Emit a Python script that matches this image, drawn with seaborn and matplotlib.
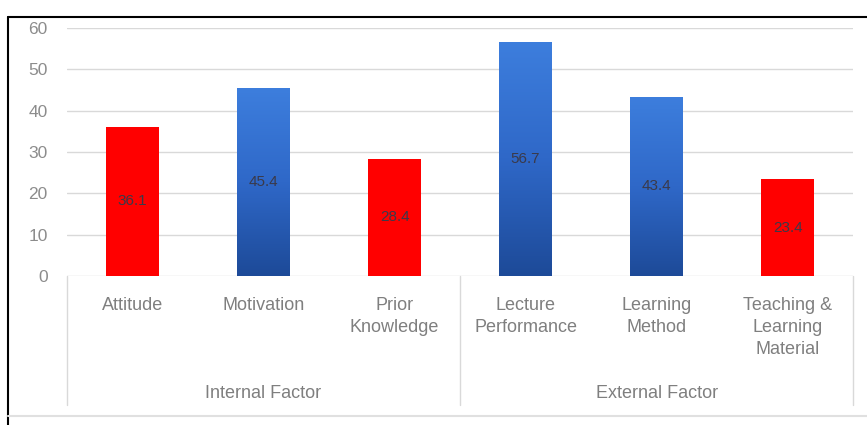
import matplotlib
matplotlib.use("Agg")
import matplotlib.pyplot as plt
import matplotlib.transforms as mtransforms
from matplotlib.lines import Line2D
import numpy as np
import pandas as pd
import seaborn as sns

# values
factors = ["Attitude", "Motivation", "Prior\nKnowledge",
           "Lecture\nPerformance", "Learning\nMethod", "Teaching &\nLearning\nMaterial"]
groups = ["Internal Factor", "External Factor"]
group_of = ["Internal Factor"] * 3 + ["External Factor"] * 3
values = [36.1, 45.4, 28.4, 56.7, 43.4, 23.4]
labels = ["36.1", "45.4", "28.4", "56.7", "43.4", "23.4"]
bar_colors = ["#FF0000", "#2F68C8", "#FF0000", "#2F68C8", "#2F68C8", "#FF0000"]

df = pd.DataFrame({"factor": factors, "value": values, "group": group_of})

sns.set_style("white")
plt.rcParams["font.family"] = ["Liberation Sans", "DejaVu Sans"]

fig = plt.figure(figsize=(8.67, 4.25), dpi=100)
ax = fig.add_axes([0.0773, 0.3506, 0.9067, 0.5834])

sns.barplot(data=df, x="factor", y="value", hue="factor", palette=bar_colors,
            width=0.4, legend=False, ax=ax, saturation=1)

# vertical gradient on the blue bars
grad = np.linspace(0, 1, 256).reshape(-1, 1)
blue_cmap = matplotlib.colors.LinearSegmentedColormap.from_list("b", ["#1D4A98", "#2F68C8", "#3D7EDD"])
for patch, c in zip(ax.patches, bar_colors):
    if c != "#FF0000":
        x0, y0 = patch.get_x(), patch.get_y()
        w, h = patch.get_width(), patch.get_height()
        im = ax.imshow(grad, cmap=blue_cmap, origin="lower", aspect="auto",
                       extent=[x0, x0 + w, y0, y0 + h], zorder=patch.get_zorder() + 0.1)
        im.set_clip_path(patch)
    patch.set_edgecolor("none")

for i, (v, lab) in enumerate(zip(values, labels)):
    ax.text(i, v / 2, lab, ha="center", va="center", fontsize=11, color="#3A3A4A", zorder=5)

ax.set_xlim(-0.5, 5.5)
ax.set_ylim(0, 60)
ax.set_yticks(range(0, 61, 10))
ax.yaxis.grid(True, color="#D9D9D9", linewidth=1)
ax.set_axisbelow(True)
for s in ax.spines.values():
    s.set_visible(False)
ax.tick_params(axis="y", length=0, pad=14, labelsize=12.5, labelcolor="#8C8C8C")
ax.tick_params(axis="x", length=0, pad=15, labelsize=13, labelcolor="#7F7F7F")
ax.set_xticks(range(len(factors)))
ax.set_xticklabels(factors, ha="center", multialignment="center", linespacing=1.4)
ax.set_xlabel("")
ax.set_ylabel("")

trans = mtransforms.blended_transform_factory(ax.transData, ax.transAxes)
for xs in [-0.5, 2.5, 5.5]:
    ax.plot([xs, xs], [0, -0.52], transform=trans, color="#D9D9D9", lw=1, clip_on=False)
ax.text(1, -0.472, groups[0], transform=trans, ha="center", va="center",
        fontsize=13, color="#7F7F7F")
ax.text(4, -0.472, groups[1], transform=trans, ha="center", va="center",
        fontsize=13, color="#7F7F7F")

# frame around the chart
fig.add_artist(Line2D([0.0092, 0.0092], [0, 0.96], color="black", lw=1.5))
fig.add_artist(Line2D([0.0092, 1], [0.96, 0.96], color="black", lw=1.5))
fig.add_artist(Line2D([0.0092, 1], [0.022, 0.022], color="#E0E0E0", lw=1.5))

fig.savefig("out.png", dpi=100)
